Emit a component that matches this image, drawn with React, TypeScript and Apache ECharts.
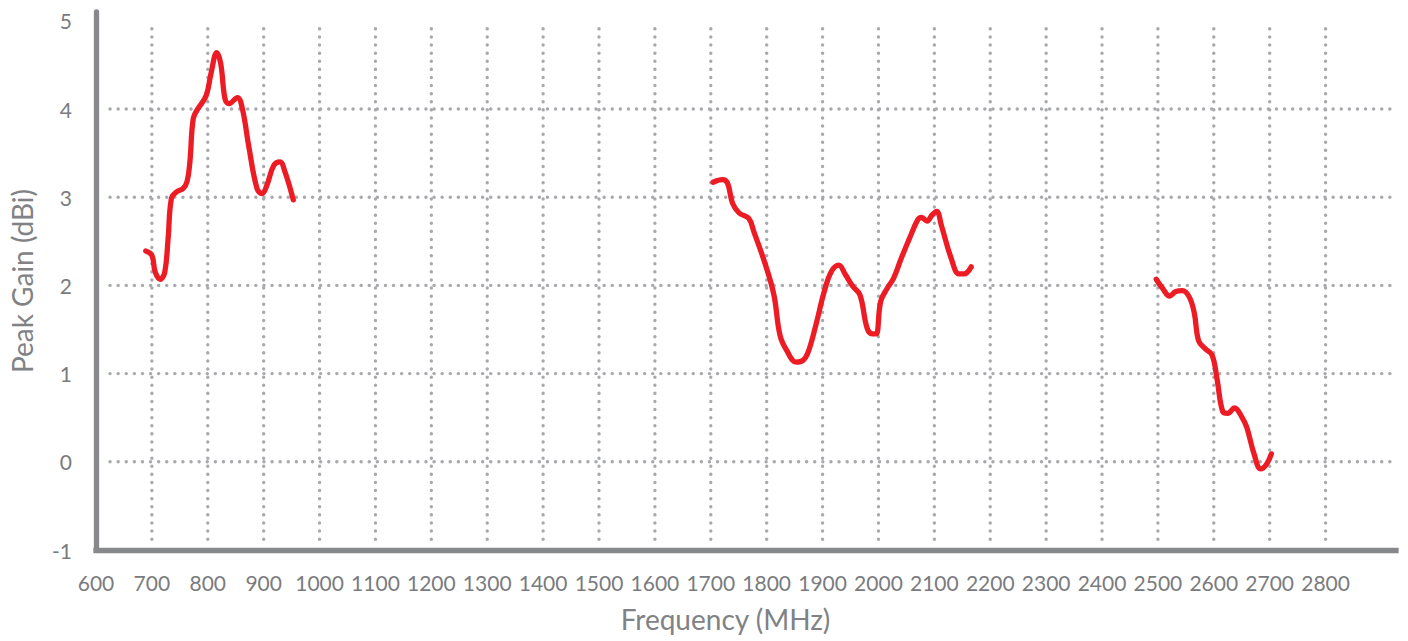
import React, { useEffect, useRef } from "react";
import * as echarts from "echarts";

const xTicks = [700, 800, 900, 1000, 1100, 1200, 1300, 1400, 1500, 1600, 1700, 1800, 1900, 2000, 2100, 2200, 2300, 2400, 2500, 2600, 2700, 2800];
const yTicks = [0, 1, 2, 3, 4];

const band1Freq = [689, 700, 706, 715, 723, 729, 735, 744, 756, 763, 768, 774, 782, 797, 806, 816, 823, 831, 838, 853, 862, 873, 888, 897, 906, 918, 929, 938, 953];
const band1Gain = [2.39, 2.34, 2.15, 2.07, 2.15, 2.53, 2.99, 3.06, 3.1, 3.18, 3.4, 3.89, 4.0, 4.15, 4.41, 4.64, 4.52, 4.11, 4.06, 4.13, 4.0, 3.59, 3.1, 3.04, 3.14, 3.36, 3.4, 3.29, 2.97];

const band2Freq = [1704, 1721, 1730, 1739, 1751, 1768, 1777, 1798, 1813, 1824, 1836, 1853, 1865, 1874, 1888, 1903, 1916, 1929, 1941, 1954, 1967, 1980, 1990, 1996, 2004, 2016, 2027, 2041, 2056, 2070, 2077, 2087, 2096, 2104, 2113, 2130, 2144, 2153, 2166];
const band2Gain = [3.17, 3.2, 3.16, 2.93, 2.82, 2.76, 2.61, 2.23, 1.89, 1.43, 1.26, 1.13, 1.15, 1.24, 1.55, 1.93, 2.16, 2.23, 2.12, 1.99, 1.89, 1.51, 1.45, 1.45, 1.82, 1.97, 2.08, 2.31, 2.54, 2.74, 2.77, 2.73, 2.8, 2.84, 2.67, 2.31, 2.13, 2.13, 2.21];

const band3Freq = [2497, 2509, 2521, 2532, 2544, 2556, 2565, 2573, 2585, 2597, 2606, 2616, 2625, 2637, 2650, 2659, 2672, 2684, 2694, 2703];
const band3Gain = [2.07, 1.96, 1.88, 1.93, 1.94, 1.87, 1.69, 1.37, 1.28, 1.21, 0.93, 0.57, 0.55, 0.61, 0.51, 0.39, 0.09, -0.08, -0.03, 0.09];

const FONT = "Lato";
const DOT = "#a7a9ac";
const AXIS = "#87888b";
const LABEL = "#7a7b7e";
const RED = "#ed1c24";

const zip = (a: number[], b: number[]) => a.map((v, i) => [v, b[i]]);

function lineSeries(data: number[][]) {
  return {
    type: "line",
    data,
    showSymbol: false,
    smooth: 0.4,
    z: 5,
    lineStyle: { color: RED, width: 5.3, cap: "round", join: "round" },
    silent: true,
  };
}

export default function App() {
  const ref = useRef<HTMLDivElement>(null);
  useEffect(() => {
    document.body.style.margin = "0";
    const chart = echarts.init(ref.current!, null, { renderer: "svg" });
    const option: any = {
      animation: false,
      backgroundColor: "#ffffff",
      grid: { left: 92, right: 12, top: 12, bottom: 91, containLabel: false },
      xAxis: {
        type: "value",
        min: 600,
        max: 2926,
        interval: 100,
        name: "Frequency (MHz)",
        nameLocation: "middle",
        nameGap: 55,
        nameTextStyle: { fontFamily: FONT, fontSize: 28, color: "#808285", padding: [0, 41, 0, 0] },
        axisLine: { show: true, onZero: false, lineStyle: { color: AXIS, width: 5.3, cap: "square" } },
        axisTick: { show: false },
        splitLine: { show: false },
        axisLabel: {
          margin: 22,
          fontFamily: FONT,
          fontSize: 21,
          color: LABEL,
          formatter: (v: number) => (v <= 2800 && v % 100 === 0 ? String(v) : ""),
        },
      },
      yAxis: {
        type: "value",
        min: -1,
        max: 5.1,
        interval: 1,
        name: "Peak Gain (dBi)",
        nameLocation: "middle",
        nameRotate: 90,
        nameGap: 60,
        nameTextStyle: { fontFamily: FONT, fontSize: 28, color: "#808285" },
        axisLine: { show: true, onZero: false, lineStyle: { color: AXIS, width: 5.3 } },
        axisTick: { show: false },
        splitLine: { show: false },
        axisLabel: {
          margin: 24,
          fontFamily: FONT,
          fontSize: 21,
          color: LABEL,
          formatter: (v: number) => (Math.abs(v - Math.round(v)) < 1e-6 ? String(Math.round(v)) : ""),
        },
      },
      series: [
        {
          type: "custom",
          silent: true,
          z: 1,
          clip: false,
          data: xTicks.map((v) => [v, 0]),
          encode: { x: 0, y: 1 },
          renderItem: (params: any, api: any) => {
            const x = api.value(0);
            const top = api.coord([x, 5]);
            const bot = api.coord([x, -1]);
            return {
              type: "line",
              shape: { x1: top[0], y1: top[1] + 8, x2: top[0], y2: bot[1] - 8 },
              style: { stroke: DOT, lineWidth: 3.4, lineDash: [0.1, 8], lineCap: "round", fill: null },
            };
          },
        },
        {
          type: "custom",
          silent: true,
          z: 1,
          clip: false,
          data: yTicks.map((v) => [600, v]),
          encode: { x: 0, y: 1 },
          renderItem: (params: any, api: any) => {
            const y = api.value(1);
            const p = api.coord([600, y]);
            const cs = params.coordSys;
            return {
              type: "line",
              shape: { x1: cs.x + 14, y1: p[1], x2: cs.x + cs.width - 1, y2: p[1] },
              style: { stroke: DOT, lineWidth: 3.4, lineDash: [0.1, 8], lineCap: "round", fill: null },
            };
          },
        },
        lineSeries(zip(band1Freq, band1Gain)),
        lineSeries(zip(band2Freq, band2Gain)),
        lineSeries(zip(band3Freq, band3Gain)),
      ],
    };
    chart.setOption(option);
    return () => chart.dispose();
  }, []);
  return <div ref={ref} style={{ width: 1408, height: 641 }} />;
}
